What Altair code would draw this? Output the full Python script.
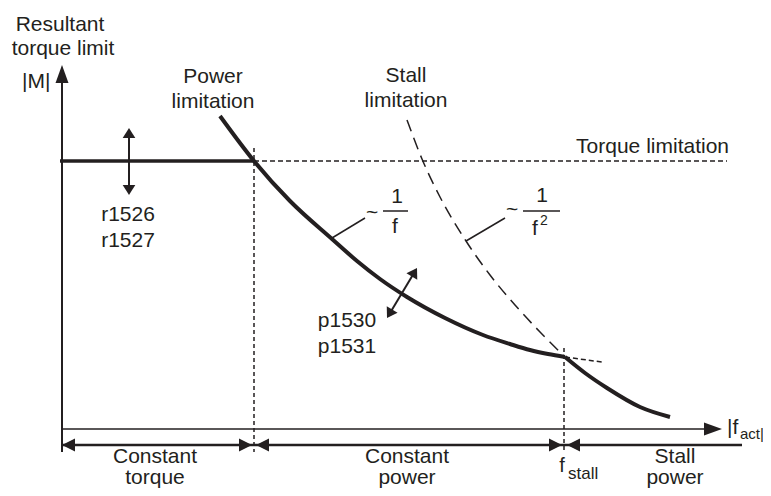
import altair as alt
import pandas as pd

# ---- diagram data (f = speed axis units, M = torque units; origin at axis cross) ----
power_f = [158, 192, 228, 270, 295, 318, 345, 383, 421, 448, 468, 486, 503]
power_M = [313, 268, 228, 190, 168, 150, 132, 111, 94, 85, 79, 75, 72]

stall_f = [345, 360, 378, 404, 428, 453, 478, 503]
stall_M = [309, 270, 232, 188, 154, 124, 97, 72]

stall_power_f = [503, 523, 545, 578, 608]
stall_power_M = [72, 56, 41, 22, 12]

torque_f = [-2, 192]
torque_M = [268, 268]

power_ext_f = [503, 540]
power_ext_M = [72, 67]

f_base = 192
f_stall = 502
torque_limit_end = 665

# text labels: (label, f, M, size, align)
labels = [
    ("Resultant", -2, 398, 21, "center"),
    ("torque limit", 1, 374, 21, "center"),
    ("Power", 151, 346, 21, "center"),
    ("limitation", 151, 321, 21, "center"),
    ("Stall", 344, 347, 21, "center"),
    ("limitation", 344, 322, 21, "center"),
    ("r1526", 66, 208, 21, "center"),
    ("r1527", 66, 182, 21, "center"),
    ("p1530", 285, 102, 21, "center"),
    ("p1531", 285, 76, 21, "center"),
    ("Constant", 93, -34, 21, "center"),
    ("torque", 93, -55, 21, "center"),
    ("Constant", 345, -34, 21, "center"),
    ("power", 345, -55, 21, "center"),
    ("Stall", 613, -34, 21, "center"),
    ("power", 613, -55, 21, "center"),
    ("~", 310, 210, 21, "center"),
    ("1", 335, 226, 21, "center"),
    ("f", 333, 196, 21, "center"),
    ("~", 450, 213, 21, "center"),
    ("1", 480, 227, 21, "center"),
    ("f", 473, 194, 21, "center"),
    ("f", 500, -43, 20, "center"),
    ("|M|", -40, 341, 21, "left"),
    ("|f", 665, -5, 21, "left"),
    ("act|", 678, -10, 15, "left"),
    ("stall", 506, -50, 17, "left"),
    ("2", 478, 204, 14, "left"),
    ("Torque limitation", 667, 276, 21, "right"),
]

INK = "#231f20"
FONT = "Liberation Sans"

X = alt.X("f:Q", scale=alt.Scale(domain=[-54, 701]), axis=None)
Y = alt.Y("M:Q", scale=alt.Scale(domain=[-59, 421]), axis=None)


def curve(fs, ms, width, dash=None, interp="monotone"):
    df = pd.DataFrame({"f": fs, "M": ms, "o": range(len(fs))})
    kw = dict(color=INK, strokeWidth=width, interpolate=interp, strokeCap="butt")
    if dash:
        kw["strokeDash"] = dash
    return alt.Chart(df).mark_line(**kw).encode(x=X, y=Y, order="o:Q")


def segs(rows, width, dash=None, cap="butt"):
    df = pd.DataFrame(rows, columns=["f", "M", "f2", "M2"])
    kw = dict(color=INK, strokeWidth=width, strokeCap=cap)
    if dash:
        kw["strokeDash"] = dash
    return alt.Chart(df).mark_rule(**kw).encode(
        x=X, y=Y, x2=alt.X2("f2:Q"), y2=alt.Y2("M2:Q")
    )


def heads(rows, path, size):
    df = pd.DataFrame(rows, columns=["f", "M", "ang"])
    return alt.Chart(df).mark_point(
        shape=path, size=size, filled=True, color=INK, opacity=1, strokeWidth=0
    ).encode(x=X, y=Y, angle=alt.Angle("ang:Q", scale=None))


layers = []

# axes and dimension line
layers.append(segs([(0, -23, 0, 350)], 2))                 # y axis
layers.append(segs([(0, 0, 650, 0)], 1.5))                 # x axis
layers.append(segs([(0, -16, 680, -16)], 2.5))             # dimension line
layers.append(heads([(0, 364, 0), (660, 0, 90)], "M0,0L-0.36,1L0.36,1Z", 1296))
layers.append(heads([(0, -16, 270), (190, -16, 90), (194, -16, 270),
                     (500, -16, 90), (505, -16, 270)], "M0,0L-0.5,1L0.5,1Z", 676))

# dashed guides
layers.append(segs([(f_base, 281, f_base, -23), (f_stall, 81, f_stall, -23)], 1.5, [4, 3]))
layers.append(segs([(f_base, 268, torque_limit_end, 268)], 1.5, [5, 3]))
layers.append(curve(power_ext_f, power_ext_M, 1.5, [5, 3], "linear"))
layers.append(curve(stall_f, stall_M, 1.5, [12, 7]))

# solid limit curves
layers.append(curve(torque_f, torque_M, 3.5, interp="linear"))
layers.append(curve(power_f, power_M, 4))
layers.append(curve(stall_power_f, stall_power_M, 4))

# leaders and fraction bars
layers.append(segs([(270, 191, 303, 211), (404, 188, 443, 211)], 1.5))
layers.append(segs([(321, 218, 346, 218), (461, 218, 498, 218)], 1.5))

# parameter double arrows
layers.append(segs([(67, 240, 67, 295), (328, 116, 352, 156)], 2))
layers.append(heads([(67, 301, 0), (67, 234, 180), (355, 161, 31), (325, 111, 211)],
                    "M0,0L-0.63,1L0.63,1Z", 400))

# texts
tdf = pd.DataFrame(labels, columns=["label", "f", "M", "size", "align"])
for al in ["center", "left", "right"]:
    sub = tdf[tdf["align"] == al]
    for sz in sorted(sub["size"].unique()):
        part = sub[sub["size"] == sz]
        layers.append(
            alt.Chart(part).mark_text(
                align=al, baseline="alphabetic", font=FONT, fontSize=int(sz), color=INK
            ).encode(x=X, y=Y, text="label:N")
        )

chart = alt.layer(*layers).properties(
    width=755, height=480, padding=0, autosize=alt.AutoSizeParams(type="none")
).configure_view(stroke=None)

chart.save("out.html", embed_options={"renderer": "svg", "actions": False})
